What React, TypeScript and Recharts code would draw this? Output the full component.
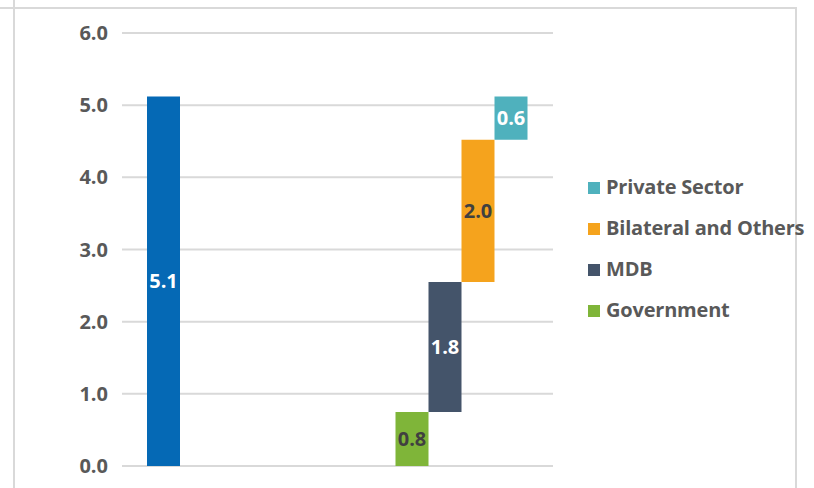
import React from "react";
import {
  BarChart,
  Bar,
  XAxis,
  YAxis,
  CartesianGrid,
  LabelList,
} from "recharts";

// valores (USD bilhões)
const categories = ["Total", "Breakdown"];
const totalValues = [5.12, null];
const governmentValues = [null, 0.75];
const mdbValues = [null, 1.8];
const bilateralValues = [null, 1.97];
const privateValues = [null, 0.6];
const yTicks = [0, 1, 2, 3, 4, 5, 6];

const legendItems = [
  { name: "Private Sector", color: "#4FB1BD" },
  { name: "Bilateral and Others", color: "#F5A31D" },
  { name: "MDB", color: "#44546A" },
  { name: "Government", color: "#7FB539" },
];

const FONT = "'Open Sans', 'Noto Sans', sans-serif";
const TEXT_GRAY = "#595959";

const data = categories.map((name, i) => {
  const gov = governmentValues[i];
  const mdb = mdbValues[i];
  const bil = bilateralValues[i];
  return {
    name,
    total: totalValues[i],
    government: gov,
    mdbBase: gov == null ? null : gov,
    mdb,
    bilateralBase: gov == null ? null : gov + (mdb ?? 0),
    bilateral: bil,
    privateBase: gov == null ? null : gov + (mdb ?? 0) + (bil ?? 0),
    private: privateValues[i],
  };
});

const fmt = (v: any) => (v == null ? "" : Number(v).toFixed(1));

const labelStyle = (fill: string) => ({
  fill,
  fontSize: 20,
  fontWeight: 700,
  fontFamily: FONT,
});

const App: React.FC = () => {
  return (
    <div
      style={{
        position: "fixed",
        left: 0,
        top: 0,
        width: 814,
        height: 488,
        background: "#fff",
        overflow: "hidden",
        fontFamily: FONT,
      }}
    >
      {/* moldura */}
      <div style={{ position: "absolute", left: 13, top: 0, width: 2, height: 488, background: "#D9D9D9" }} />
      <div style={{ position: "absolute", left: 0, top: 7, width: 797, height: 2, background: "#D9D9D9" }} />
      <div style={{ position: "absolute", left: 795, top: 7, width: 2, height: 481, background: "#D9D9D9" }} />

      <div style={{ position: "absolute", left: 0, top: 0 }}>
        <BarChart
          width={814}
          height={488}
          data={data}
          margin={{ top: 33, right: 261, left: 0, bottom: 22 }}
          barCategoryGap={25}
          barGap={0}
        >
          <CartesianGrid vertical={false} stroke="#D9D9D9" strokeWidth={2} />
          <XAxis dataKey="name" hide />
          <YAxis
            width={122}
            domain={[0, 6]}
            ticks={yTicks}
            interval={0}
            tickFormatter={(v) => Number(v).toFixed(1)}
            axisLine={false}
            tickLine={false}
            tickMargin={8}
            tick={{ fill: TEXT_GRAY, fontSize: 20, fontWeight: 700, fontFamily: FONT }}
          />

          <Bar dataKey="total" stackId="s1" fill="#0569B5" isAnimationActive={false}>
            <LabelList dataKey="total" position="center" formatter={fmt} style={labelStyle("#ffffff")} />
          </Bar>

          <Bar dataKey="government" stackId="s2" fill="#7FB539" isAnimationActive={false}>
            <LabelList dataKey="government" position="center" formatter={fmt} style={labelStyle("#404040")} />
          </Bar>

          <Bar dataKey="mdbBase" stackId="s3" fill="transparent" isAnimationActive={false} />
          <Bar dataKey="mdb" stackId="s3" fill="#44546A" isAnimationActive={false}>
            <LabelList dataKey="mdb" position="center" formatter={fmt} style={labelStyle("#ffffff")} />
          </Bar>

          <Bar dataKey="bilateralBase" stackId="s4" fill="transparent" isAnimationActive={false} />
          <Bar dataKey="bilateral" stackId="s4" fill="#F5A31D" isAnimationActive={false}>
            <LabelList dataKey="bilateral" position="center" formatter={fmt} style={labelStyle("#404040")} />
          </Bar>

          <Bar dataKey="privateBase" stackId="s5" fill="transparent" isAnimationActive={false} />
          <Bar dataKey="private" stackId="s5" fill="#4FB1BD" isAnimationActive={false}>
            <LabelList dataKey="private" position="center" formatter={fmt} style={labelStyle("#ffffff")} />
          </Bar>
        </BarChart>
      </div>

      {/* legenda */}
      <div style={{ position: "absolute", left: 588, top: 166 }}>
        {legendItems.map((item) => (
          <div
            key={item.name}
            style={{
              height: 41,
              lineHeight: "41px",
              fontSize: 20,
              fontWeight: 700,
              letterSpacing: -0.2,
              color: TEXT_GRAY,
              whiteSpace: "nowrap",
            }}
          >
            <span
              style={{
                display: "inline-block",
                width: 12,
                height: 12,
                background: item.color,
                marginRight: 6,
                verticalAlign: "baseline",
              }}
            />
            {item.name}
          </div>
        ))}
      </div>
    </div>
  );
};

export default App;
